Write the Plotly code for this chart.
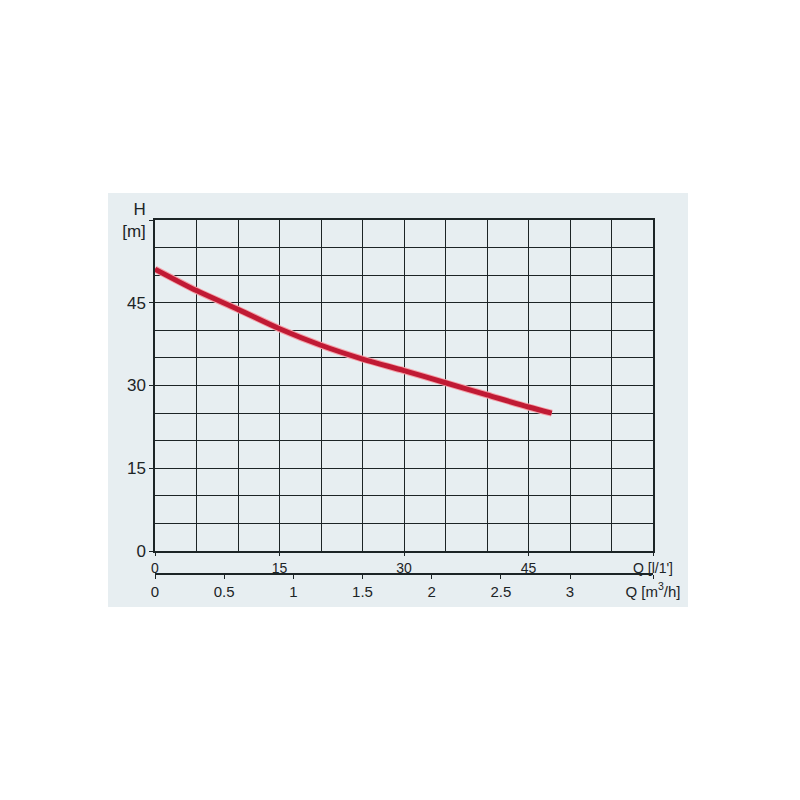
import plotly.graph_objects as go

# Data
q_lmin = [0, 5, 10, 15, 20, 25, 30, 35, 40, 45, 47.8]
head_m = [51.1, 47.2, 43.8, 40.3, 37.3, 34.8, 32.7, 30.5, 28.3, 26.1, 25.0]

x_tickvals = [0, 15, 30, 45, 60]
x_ticktext = ["0", "15", "30", "45", "Q [l/1']"]
y_tickvals = [0, 15, 30, 45, 60]
y_ticktext = ["0", "15", "30", "45", "H<br>[m]"]
m3h_tickvals = [0, 0.5, 1, 1.5, 2, 2.5, 3, 3.6]
m3h_ticktext = ["0", "0.5", "1", "1.5", "2", "2.5", "3", "Q [m<sup>3</sup>/h]"]

panel = "#e7eef1"
ink = "#1c2426"
fam = "Liberation Sans, Arial, sans-serif"
font = dict(family=fam, size=15, color=ink)

fig = go.Figure()
fig.add_trace(go.Scatter(
    x=q_lmin, y=head_m, mode="lines",
    line=dict(color="#f4a0a8", width=7, shape="spline", smoothing=0.8),
    hoverinfo="skip", showlegend=False,
))
fig.add_trace(go.Scatter(
    x=q_lmin, y=head_m, mode="lines",
    line=dict(color="#c01a34", width=5, shape="spline", smoothing=0.8),
    showlegend=False,
))
# carrier trace for the m3/h axis
fig.add_trace(go.Scatter(x=[0, 3.6], y=[0, 0], xaxis="x2", yaxis="y",
                         mode="lines", line=dict(width=0), showlegend=False,
                         hoverinfo="skip"))

# the page body adds an 8px offset; compensate in the margins
off = 8
plot_left, plot_top, plot_right, plot_bottom = 155, 220, 653, 551
axis2_y = 574
L = plot_left - off
T = plot_top - off
plot_w = plot_right - plot_left
R = 800 - L - plot_w
B = 800 - (axis2_y - off)
plot_h = axis2_y - plot_top
ydom0 = (axis2_y - plot_bottom) / plot_h

fig.update_layout(
    width=800, height=800,
    margin=dict(l=L, r=R, t=T, b=B, pad=0),
    paper_bgcolor="white",
    plot_bgcolor=panel,
    font=font,
    xaxis=dict(
        range=[0, 60], tickvals=x_tickvals, ticktext=x_ticktext,
        tickfont=dict(family=fam, size=14, color=ink),
        ticks="outside", ticklen=3, tickcolor=ink, tickwidth=1,
        showgrid=False, zeroline=False,
        showline=True, linecolor=ink, linewidth=1.5, mirror=True,
        minor=dict(dtick=5, showgrid=True, gridcolor=ink, gridwidth=1, ticks=""),
        anchor="y", automargin=False,
    ),
    yaxis=dict(
        range=[0, 60], domain=[ydom0, 1], tickvals=y_tickvals, ticktext=y_ticktext,
        tickfont=dict(family=fam, size=17, color=ink),
        ticks="outside", ticklen=4, tickcolor=ink, tickwidth=1,
        showgrid=False, zeroline=False,
        showline=True, linecolor=ink, linewidth=1.5, mirror=True,
        minor=dict(dtick=5, showgrid=True, gridcolor=ink, gridwidth=1, ticks=""),
        automargin=False,
    ),
    xaxis2=dict(
        range=[0, 3.6], tickvals=m3h_tickvals, ticktext=m3h_ticktext,
        tickfont=dict(family=fam, size=15, color=ink),
        ticks="outside", ticklen=4, tickcolor=ink, tickwidth=1,
        showgrid=False, zeroline=False, showline=True, linecolor=ink, linewidth=1.5,
        anchor="free", position=0, overlaying="x", automargin=False,
    ),
    shapes=[dict(
        type="rect", xref="paper", yref="paper", layer="below",
        x0=(108 - plot_left) / plot_w, x1=(688 - plot_left) / plot_w,
        y0=-(607 - axis2_y) / plot_h, y1=(axis2_y - 193) / plot_h,
        fillcolor=panel, line=dict(width=0),
    )],
)

fig.write_html("out.html")
